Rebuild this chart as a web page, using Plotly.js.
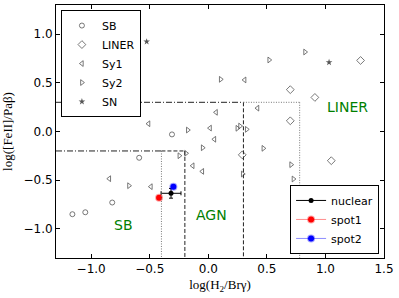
<!DOCTYPE html>
<html>
<head>
<meta charset="utf-8">
<script src="https://cdn.plot.ly/plotly-3.0.1.min.js"></script>
<style>
html,body{margin:0;padding:0;background:#fff;}
#chart{width:399px;height:298px;}
</style>
</head>
<body>
<div id="chart"></div>
<script>
// ---- data ----
const sbX = [-1.16, -1.05, -0.82, -0.59, -0.31];
const sbY = [-0.85, -0.83, -0.73, -0.27, -0.03];

const linerX = [1.30, 0.70, 0.91, 0.70, 0.29, 1.05];
const linerY = [0.73, 0.43, 0.35, 0.11, -0.24, -0.30];

const sy1X = [-0.51, 0.015, 0.066, 0.052, 0.31, 0.42, -0.845, -0.49, -0.133, -0.051];
const sy1Y = [0.08, 0.035, 0.197, -0.08, 0.53, 0.24, -0.485, -0.567, -0.352, -0.41];

const sy2X = [0.106, -0.175, 0.52, 0.826, 0.248, 0.271, 0.328, -0.247, -0.19, -0.048, -0.677, 0.47, 0.707, 0.727, 0.294];
const sy2Y = [0.536, 0.015, 0.735, 0.817, 0.033, 0.056, 0.022, -0.249, -0.224, -0.167, -0.557, -0.173, -0.341, -0.488, -0.437];

const snX = [-0.526, 1.031];
const snY = [0.923, 0.711];

const nuclearX = [-0.318], nuclearY = [-0.635], nuclearXerr = [0.085], nuclearYerr = [0.05];
const spot1X = [-0.42], spot1Y = [-0.68];
const spot2X = [-0.298], spot2Y = [-0.567];

// region limits (log values)
const sbXlim = -0.4, agnXlo = -0.2, agnXhi = 0.3, linerXlim = 0.78;
const yLo = -0.2, yHi = 0.3;

const xTicks = [-1.0, -0.5, 0.0, 0.5, 1.0, 1.5];
const yTicks = [-1.0, -0.5, 0.0, 0.5, 1.0];

const regionLabels = ['SB', 'AGN', 'LINER'];
const regionLabelX = [-0.72, 0.03, 1.185];
const regionLabelY = [-0.96, -0.86, 0.25];

const grey = '#555';
function openTrace(name, x, y, sym, size) {
  return {type:'scatter', mode:'markers', name:name, x:x, y:y,
    marker:{symbol:sym, size:size, color:grey, line:{color:grey, width:0.8}},
    legend:'legend', cliponaxis:false};
}
const traces = [
  openTrace('SB', sbX, sbY, 'circle-open', 5),
  openTrace('LINER', linerX, linerY, 'diamond-open', 6),
  openTrace('Sy1', sy1X, sy1Y, 'triangle-left-open', 5),
  openTrace('Sy2', sy2X, sy2Y, 'triangle-right-open', 5),
  {type:'scatter', mode:'markers', name:'SN', x:snX, y:snY,
    marker:{symbol:'star', size:5, color:grey, line:{width:0}}, legend:'legend'},
  {type:'scatter', mode:'lines+markers', name:'nuclear', x:nuclearX, y:nuclearY,
    error_x:{type:'data', array:nuclearXerr, color:'black', thickness:1, width:2},
    error_y:{type:'data', array:nuclearYerr, color:'black', thickness:1, width:2},
    marker:{color:'black', size:5}, line:{color:'black', width:1}, legend:'legend2'},
  {type:'scatter', mode:'lines+markers', name:'spot1', x:spot1X, y:spot1Y,
    marker:{color:'red', size:6, line:{color:'rgba(255,0,0,0.35)', width:2}},
    line:{color:'rgba(255,0,0,0.45)', width:1}, legend:'legend2'},
  {type:'scatter', mode:'lines+markers', name:'spot2', x:spot2X, y:spot2Y,
    marker:{color:'blue', size:6, line:{color:'rgba(0,0,255,0.35)', width:2}},
    line:{color:'rgba(0,0,255,0.45)', width:1}, legend:'legend2'}
];

const dk = '#222', lt = '#777';
const shapes = [
  {type:'line', xref:'x', yref:'y', x0:-1.3, x1:agnXhi, y0:yHi, y1:yHi, line:{color:dk, width:1, dash:'6px,2px,1px,2px'}},
  {type:'line', xref:'x', yref:'y', x0:agnXhi, x1:agnXhi, y0:yHi, y1:-1.3, line:{color:dk, width:1, dash:'4px,2px'}},
  {type:'line', xref:'x', yref:'y', x0:-1.3, x1:sbXlim, y0:yLo, y1:yLo, line:{color:dk, width:1, dash:'6px,2px,1px,2px'}},
  {type:'line', xref:'x', yref:'y', x0:sbXlim, x1:agnXlo, y0:yLo, y1:yLo, line:{color:dk, width:1, dash:'4px,2px'}},
  {type:'line', xref:'x', yref:'y', x0:agnXlo, x1:agnXlo, y0:yLo, y1:-1.3, line:{color:dk, width:1, dash:'4px,2px'}},
  {type:'line', xref:'x', yref:'y', x0:sbXlim, x1:sbXlim, y0:yLo, y1:-1.3, line:{color:lt, width:1, dash:'1px,1.5px'}},
  {type:'line', xref:'x', yref:'y', x0:agnXhi, x1:linerXlim, y0:yHi, y1:yHi, line:{color:lt, width:1, dash:'1px,1.5px'}},
  {type:'line', xref:'x', yref:'y', x0:linerXlim, x1:linerXlim, y0:yHi, y1:-1.3, line:{color:lt, width:1, dash:'1px,1.5px'}}
];

const annotations = regionLabels.map((t,i)=>({
  text:t, x:regionLabelX[i], y:regionLabelY[i], xref:'x', yref:'y',
  showarrow:false, font:{family:'DejaVu Sans', size:14, color:'#008000'}
}));

const axisCommon = {
  showline:true, linecolor:'black', linewidth:1, mirror:'allticks',
  ticks:'inside', ticklen:4, tickcolor:'black', tickwidth:1,
  showgrid:false, zeroline:false, tickformat:'.1f',
  tickfont:{family:'DejaVu Sans', size:12, color:'black'}
};

const layout = {
  width:399, height:298,
  margin:{l:56, r:15, t:5, b:40},
  paper_bgcolor:'white', plot_bgcolor:'white',
  xaxis:Object.assign({}, axisCommon, {range:[-1.3,1.5], tickvals:xTicks,
    title:{text:'log(H<sub>2</sub>/Brγ)', font:{family:'Liberation Serif', size:13, color:'black'}, standoff:4}}),
  yaxis:Object.assign({}, axisCommon, {range:[-1.3,1.3], tickvals:yTicks,
    title:{text:'log([FeII]/Paβ)', font:{family:'Liberation Serif', size:13, color:'black'}, standoff:9}}),
  shapes:shapes,
  annotations:annotations,
  showlegend:true,
  legend:{x:0.015, y:0.98, xanchor:'left', yanchor:'top', bgcolor:'white',
    bordercolor:'black', borderwidth:1, font:{family:'DejaVu Sans', size:11, color:'black'}, tracegroupgap:0},
  legend2:{x:0.985, y:0.016, xanchor:'right', yanchor:'bottom', bgcolor:'white',
    bordercolor:'black', borderwidth:1, font:{family:'DejaVu Sans', size:11, color:'black'}}
};

Plotly.newPlot('chart', traces, layout, {staticPlot:true, displayModeBar:false});
</script>
</body>
</html>
